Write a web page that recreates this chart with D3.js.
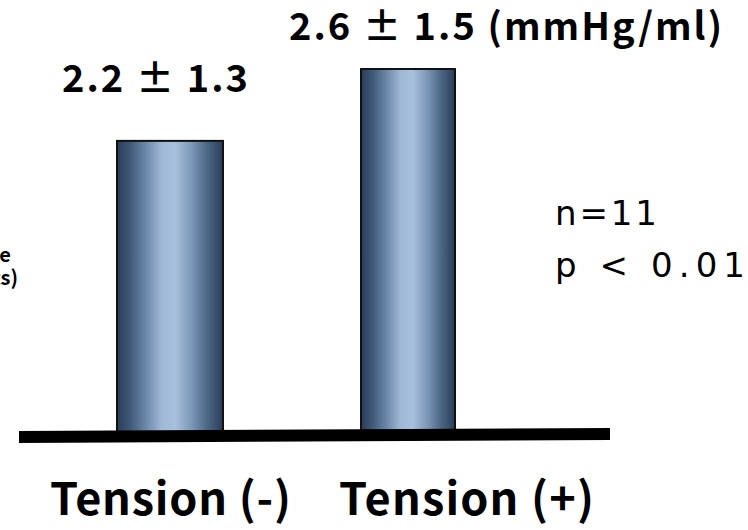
<!DOCTYPE html>
<html>
<head>
<meta charset="utf-8">
<script src="https://cdn.jsdelivr.net/npm/d3@7"></script>
<style>
  body { margin: 0; background: #fff; }
  svg { display: block; }
</style>
</head>
<body>
<script>
var categories = ["Tension (-)", "Tension (+)"];
var means = [2.2, 2.6];
var sds = [1.3, 1.5];
var unit = "(mmHg/ml)";
var notes = ["n=11", "p < 0.01"];
var axisLines = ["Compliance", "(beats)"];

var W = 748, H = 530;
var font = "'Noto Sans CJK KR', 'Open Sans', sans-serif";
var wide = "'DejaVu Sans', sans-serif";

var svg = d3.select("body").append("svg")
    .attr("width", W).attr("height", H);

// gradient for the cylinder look
var g = svg.append("defs").append("linearGradient")
    .attr("id", "cyl").attr("x1", "0%").attr("x2", "100%").attr("y1", "0%").attr("y2", "0%");
[[0, "#2a3d58"], [0.12, "#3f5877"], [0.28, "#6e8aab"], [0.42, "#9fb8d5"],
 [0.55, "#a7c0dd"], [0.7, "#7d98b8"], [0.85, "#4c6786"], [1, "#2a3d58"]]
  .forEach(function(s) {
    g.append("stop").attr("offset", s[0]).attr("stop-color", s[1]);
  });

// bar centres
var x = d3.scalePoint().domain(categories).range([170, 408]);
// the picture's baseline does not sit at zero
var y = d3.scaleLinear().domain([0.58, 2.6]).range([432, 69]);

var widths = [106, 94];

svg.selectAll("rect.bar")
  .data(categories)
  .enter().append("rect")
  .attr("class", "bar")
  .attr("x", function(d, i) { return x(d) - widths[i] / 2; })
  .attr("y", function(d, i) { return y(means[i]); })
  .attr("width", function(d, i) { return widths[i]; })
  .attr("height", function(d, i) { return y(y.domain()[0]) - y(means[i]) + (i === 1 ? 5 : 0); })
  .attr("fill", "url(#cyl)")
  .attr("stroke", "#111")
  .attr("stroke-width", 2);

// baseline
svg.append("line")
  .attr("x1", 19).attr("y1", 437)
  .attr("x2", 610).attr("y2", 434)
  .attr("stroke", "#000")
  .attr("stroke-width", 12);

// value labels
svg.append("text")
  .attr("x", 62).attr("y", 92)
  .attr("font-family", font).attr("font-weight", "bold").attr("font-size", 38)
  .attr("textLength", 186).attr("lengthAdjust", "spacing")
  .text(means[0].toFixed(1) + " \u00b1 " + sds[0].toFixed(1));
svg.append("text")
  .attr("x", 289).attr("y", 40)
  .attr("font-family", font).attr("font-weight", "bold").attr("font-size", 38)
  .attr("textLength", 433).attr("lengthAdjust", "spacing")
  .text(means[1].toFixed(1) + " \u00b1 " + sds[1].toFixed(1) + " " + unit);

// category labels
var catX = [50, 339], catW = [241, 255];
svg.selectAll("text.cat")
  .data(categories)
  .enter().append("text")
  .attr("class", "cat")
  .attr("x", function(d, i) { return catX[i]; })
  .attr("y", 515)
  .attr("font-family", font).attr("font-weight", "bold").attr("font-size", 45)
  .attr("textLength", function(d, i) { return catW[i]; })
  .attr("lengthAdjust", "spacing")
  .text(function(d) { return d; });

// n and p
var noteW = [102, 190];
svg.selectAll("text.note")
  .data(notes)
  .enter().append("text")
  .attr("class", "note")
  .attr("x", 555)
  .attr("y", function(d, i) { return 225 + i * 52; })
  .attr("font-family", wide).attr("font-size", 34)
  .attr("textLength", function(d, i) { return noteW[i]; })
  .attr("lengthAdjust", "spacing")
  .text(function(d) { return d; });

// axis title, cut off at the left edge
svg.selectAll("text.ax")
  .data(axisLines)
  .enter().append("text")
  .attr("class", "ax")
  .attr("x", function(d, i) { return [11, 18][i]; })
  .attr("y", function(d, i) { return 262 + i * 23; })
  .attr("text-anchor", "end")
  .attr("font-family", font).attr("font-weight", "bold").attr("font-size", 20)
  .text(function(d) { return d; });
</script>
</body>
</html>
